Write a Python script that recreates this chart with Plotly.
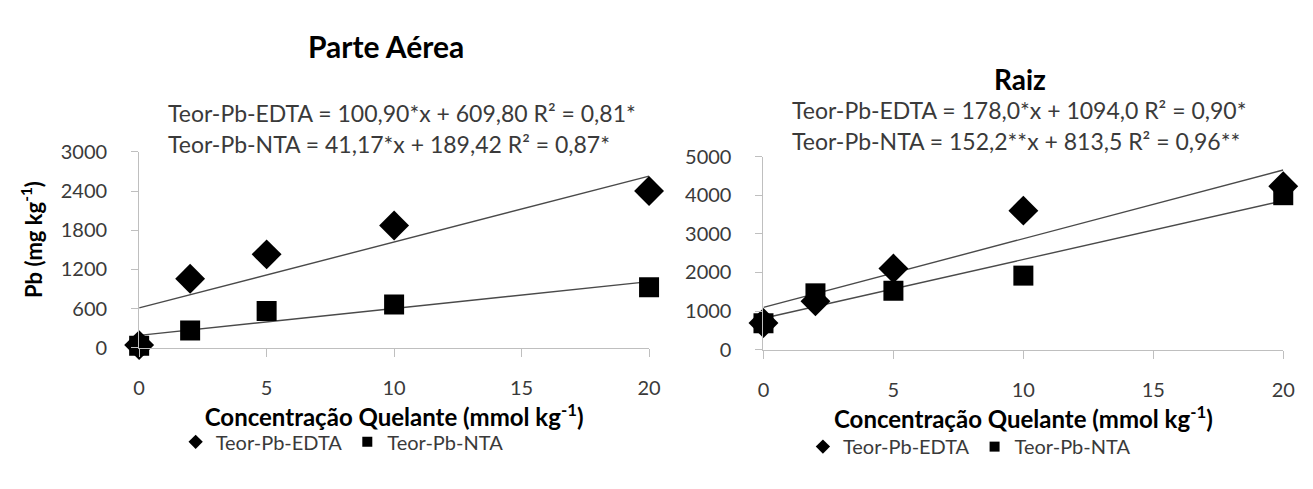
import plotly.graph_objects as go

# ---- data ----
conc = [0, 2, 5, 10, 20]
aerea_edta = [40, 1056, 1430, 1872, 2400]
aerea_nta = [30, 264, 562, 662, 926]
raiz_edta = [690, 1250, 2100, 3600, 4230]
raiz_nta = [683, 1458, 1525, 1917, 4000]

# trend-line equations (slope, intercept) as printed on the chart
aerea_edta_fit = (100.90, 609.80)
aerea_nta_fit = (41.17, 189.42)
raiz_edta_fit = (178.0, 1094.0)
raiz_nta_fit = (152.2, 813.5)
fit_x = [0, 20]

eq_aerea = ["Teor-Pb-EDTA = 100,90*x + 609,80 R² = 0,81*",
            "Teor-Pb-NTA = 41,17*x + 189,42 R² = 0,87*"]
eq_raiz = ["Teor-Pb-EDTA = 178,0*x + 1094,0 R² = 0,90*",
           "Teor-Pb-NTA = 152,2**x + 813,5 R² = 0,96**"]

x_ticks = [0, 5, 10, 15, 20]
y_ticks_aerea = [0, 600, 1200, 1800, 2400, 3000]
y_ticks_raiz = [0, 1000, 2000, 3000, 4000, 5000]

FONT = "Lato"
W, H = 1313, 489
TICKC = "#3a3a3a"
AXC = "#bfbfbf"
LINEC = "#4a4a4a"

fig = go.Figure()

def line(fit):
    return [fit[1] + fit[0] * x for x in fit_x]

def add_panel(xa, ya, edta, nta, fe, fn, legend):
    fig.add_trace(go.Scatter(x=fit_x, y=line(fe), mode="lines", line=dict(color=LINEC, width=1.4),
                             xaxis=xa, yaxis=ya, showlegend=False, hoverinfo="skip"))
    fig.add_trace(go.Scatter(x=fit_x, y=line(fn), mode="lines", line=dict(color=LINEC, width=1.4),
                             xaxis=xa, yaxis=ya, showlegend=False, hoverinfo="skip"))
    fig.add_trace(go.Scatter(x=conc, y=edta, mode="markers", name="Teor-Pb-EDTA",
                             marker=dict(symbol="diamond", size=23, color="black"),
                             xaxis=xa, yaxis=ya, showlegend=False, cliponaxis=False))
    fig.add_trace(go.Scatter(x=conc, y=nta, mode="markers", name="Teor-Pb-NTA",
                             marker=dict(symbol="square", size=20, color="black"),
                             xaxis=xa, yaxis=ya, showlegend=False, cliponaxis=False))
    # legend entries (smaller symbols, as in the original legend)
    fig.add_trace(go.Scatter(x=[None], y=[None], mode="markers", name="Teor-Pb-EDTA",
                             marker=dict(symbol="diamond", size=11, color="black"),
                             xaxis=xa, yaxis=ya, legend=legend))
    fig.add_trace(go.Scatter(x=[None], y=[None], mode="markers", name="Teor-Pb-NTA",
                             marker=dict(symbol="square", size=10, color="black"),
                             xaxis=xa, yaxis=ya, legend=legend))

add_panel("x", "y", aerea_edta, aerea_nta, aerea_edta_fit, aerea_nta_fit, "legend")
add_panel("x2", "y2", raiz_edta, raiz_nta, raiz_edta_fit, raiz_nta_fit, "legend2")

def px(v):
    return v / W

def py(v):
    return 1 - v / H

xcommon = dict(range=[0, 20], tickvals=x_ticks, showgrid=False, zeroline=False,
               showline=True, linecolor=AXC, linewidth=1, ticks="outside", ticklen=8,
               tickcolor=AXC, ticklabelstandoff=14,
               tickfont=dict(family=FONT, size=20, color=TICKC))
ycommon = dict(showgrid=False, zeroline=False, showline=True, linecolor=AXC, linewidth=1,
               ticks="outside", ticklen=7, tickcolor=AXC, ticklabelstandoff=20,
               tickfont=dict(family=FONT, size=20, color=TICKC))

xtitle = dict(text="Concentração Quelante (mmol kg<sup>-1</sup>)",
              font=dict(family=FONT, size=24, color="black", weight="bold"), standoff=2)

fig.update_layout(
    width=W, height=H,
    margin=dict(l=0, r=0, t=0, b=0),
    paper_bgcolor="white", plot_bgcolor="white",
    xaxis=dict(domain=[px(135), px(652)], anchor="y", title=xtitle, **xcommon),
    yaxis=dict(domain=[py(352), py(146)], anchor="x", range=[0, 3000], tickvals=y_ticks_aerea,
               **ycommon),
    xaxis2=dict(domain=[px(768), px(1295)], anchor="y2", title=xtitle, **xcommon),
    yaxis2=dict(domain=[py(354), py(151)], anchor="x2", range=[0, 5000], tickvals=y_ticks_raiz,
                **ycommon),
    legend=dict(orientation="h", x=px(172), y=py(451), xanchor="left", yanchor="middle",
                font=dict(family=FONT, size=20, color=TICKC),
                bgcolor="rgba(0,0,0,0)", itemwidth=30, tracegroupgap=0),
    legend2=dict(orientation="h", x=px(808), y=py(456), xanchor="left", yanchor="middle",
                 font=dict(family=FONT, size=20, color=TICKC),
                 bgcolor="rgba(0,0,0,0)", itemwidth=30, tracegroupgap=0),
    showlegend=True,
)

annos = [
    dict(text="Parte Aérea", x=px(385), y=py(35), font=dict(size=30, weight="bold", color="black")),
    dict(text="Raiz", x=px(1028), y=py(69), font=dict(size=28, weight="bold", color="black")),
    dict(text="Pb (mg kg<sup>-1</sup>)", x=px(26), y=py(238), textangle=-90,
         font=dict(size=22, weight="bold", color="black")),
]
for i, t in enumerate(eq_aerea):
    annos.append(dict(text=t, x=px(162), y=py(105 + 33 * i), xanchor="left",
                      font=dict(size=23, color=TICKC)))
for i, t in enumerate(eq_raiz):
    annos.append(dict(text=t, x=px(795), y=py(102 + 33 * i), xanchor="left",
                      font=dict(size=23, color=TICKC)))
for a in annos:
    a.setdefault("xanchor", "center")
    a.update(xref="paper", yref="paper", yanchor="middle", showarrow=False)
    a["font"]["family"] = FONT
fig.update_layout(annotations=annos)

fig.write_html("out.html")
